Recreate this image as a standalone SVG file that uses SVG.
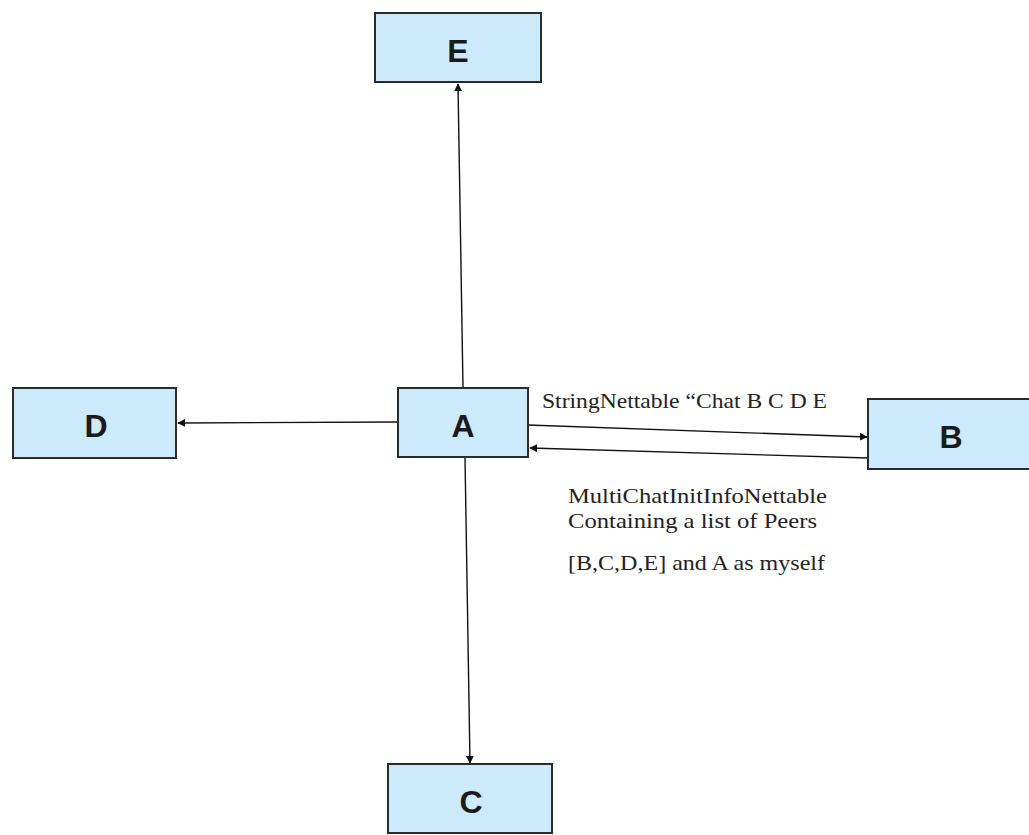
<svg xmlns="http://www.w3.org/2000/svg" width="1029" height="835" viewBox="0 0 1029 835">
  <style>
    .box { fill: #cdeafc; stroke: #2b2b2b; stroke-width: 2; }
    .lbl { font-family: "Liberation Sans", Arial, sans-serif; font-weight: bold; font-size: 32px; fill: #1a1a1a; text-anchor: middle; }
    .edge { stroke: #111; stroke-width: 1.4; fill: none; marker-end: url(#arrow); }
    .note { font-family: "Liberation Serif", "Times New Roman", serif; font-size: 21px; fill: #222; }
  </style>
  <defs>
    <marker id="arrow" viewBox="0 0 10 10" refX="9" refY="5" markerWidth="8" markerHeight="8" markerUnits="userSpaceOnUse" orient="auto">
      <path d="M0,0 L10,5 L0,10 z" fill="#111"/>
    </marker>
  </defs>
  <rect width="1029" height="835" fill="#ffffff"/>

  <g id="connectors">
    <line class="edge" x1="463" y1="388" x2="458" y2="84"/>
    <line class="edge" x1="398" y1="422" x2="178" y2="423"/>
    <line class="edge" x1="465" y1="457" x2="470" y2="763"/>
    <line class="edge" x1="528" y1="425" x2="867" y2="437"/>
    <line class="edge" x1="868" y1="458" x2="530" y2="448"/>
  </g>

  <g id="node-E">
    <rect class="box" x="375" y="13" width="166" height="69"/>
    <text class="lbl" x="458" y="62">E</text>
  </g>
  <g id="node-A">
    <rect class="box" x="398" y="388" width="130" height="69"/>
    <text class="lbl" x="463" y="437">A</text>
  </g>
  <g id="node-B">
    <rect class="box" x="868" y="399" width="170" height="70"/>
    <text class="lbl" x="951" y="448">B</text>
  </g>
  <g id="node-D">
    <rect class="box" x="13" y="388" width="163" height="70"/>
    <text class="lbl" x="96" y="437">D</text>
  </g>
  <g id="node-C">
    <rect class="box" x="388" y="764" width="164" height="69"/>
    <text class="lbl" x="471" y="813">C</text>
  </g>

  <g id="labels">
    <text class="note" x="542" y="408" textLength="285" lengthAdjust="spacingAndGlyphs">StringNettable “Chat B C D E</text>
    <text class="note" x="568" y="503" textLength="259" lengthAdjust="spacingAndGlyphs">MultiChatInitInfoNettable</text>
    <text class="note" x="568" y="528" textLength="249" lengthAdjust="spacingAndGlyphs">Containing a list of Peers</text>
    <text class="note" x="568" y="570" textLength="257" lengthAdjust="spacingAndGlyphs">[B,C,D,E] and A as myself</text>
  </g>
</svg>
